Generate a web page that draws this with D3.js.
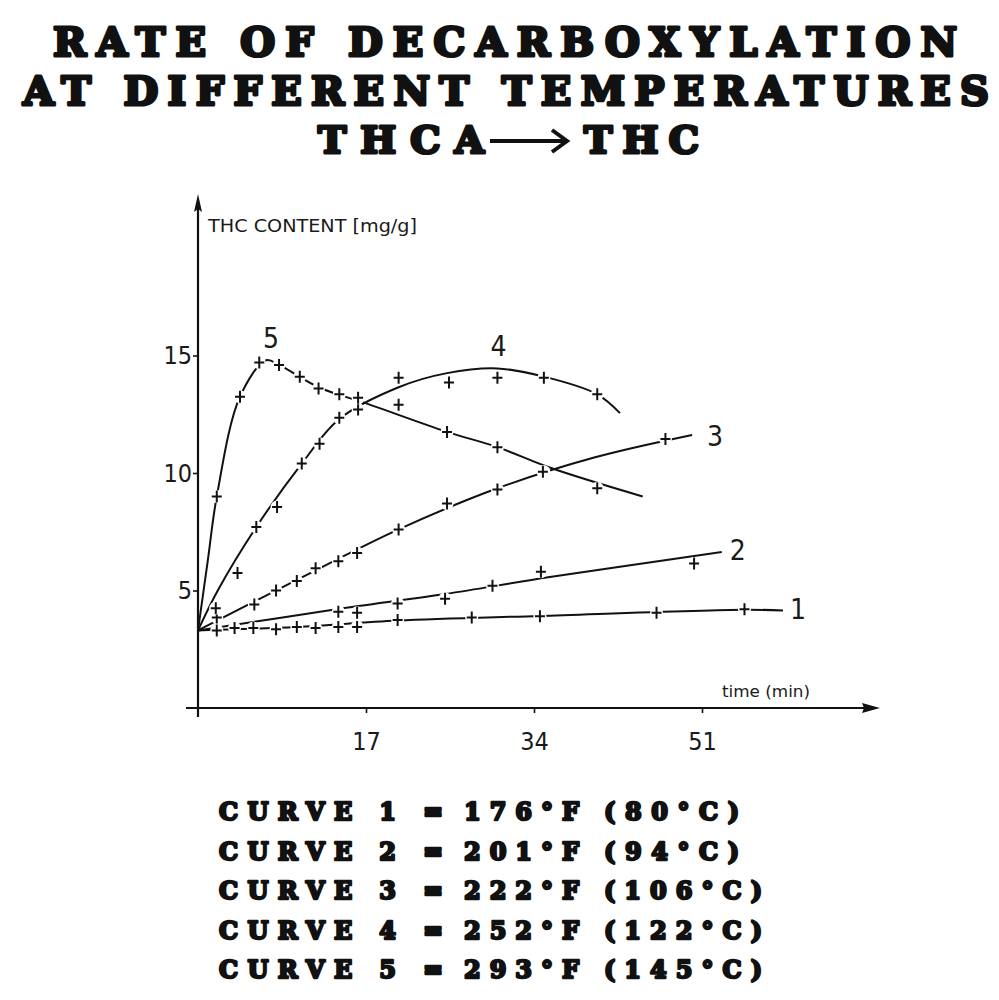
<!DOCTYPE html>
<html>
<head>
<meta charset="utf-8">
<script src="https://cdn.jsdelivr.net/npm/d3@7"></script>
<style>
  body { margin: 0; background: #fff; }
  svg { display: block; }
  .heavy { font-family: "DejaVu Serif", serif; font-weight: bold; fill: #111; stroke: #111; stroke-linejoin: round; }
  .hand { font-family: "Liberation Sans Narrow", "DejaVu Sans Condensed", sans-serif; font-stretch: condensed; fill: #1a1a1a; }
</style>
</head>
<body>
<div class="chart"></div>
<script>
// title + legend text
const titleLines = ["RATE OF DECARBOXYLATION", "AT DIFFERENT TEMPERATURES"];
const legendCurves = ["CURVE 1", "CURVE 2", "CURVE 3", "CURVE 4", "CURVE 5"];
const legendF = ["176°F", "201°F", "222°F", "252°F", "293°F"];
const legendC = ["(80°C)", "(94°C)", "(106°C)", "(122°C)", "(145°C)"];

// axes
const xTicks = [17, 34, 51];
const yTicks = [5, 10, 15];

// measured points [time min, THC mg/g]
const curve1Points = [[1.9,3.3],[3.7,3.4],[5.6,3.4],[7.9,3.35],[10,3.45],[11.9,3.4],[14.2,3.45],[16.1,3.45],[20.2,3.75],[27.7,3.85],[34.6,3.9],[46.4,4.05],[55.3,4.2]];
const curve2Points = [[14.2,4.1],[16.1,4.05],[20.2,4.45],[25,4.65],[29.8,5.2],[34.7,5.8],[50.2,6.15]];
const curve3Points = [[1.9,3.85],[5.7,4.4],[7.9,5.0],[10,5.4],[11.9,5.95],[14.2,6.25],[16.1,6.6],[20.3,7.6],[25.2,8.7],[30.3,9.3],[35,10.05],[47.3,11.45]];
const curve4Points = [[1.8,4.25],[4.0,5.75],[5.9,7.7],[8,8.55],[10.5,10.4],[12.3,11.25],[14.3,12.35],[16.2,12.7],[20.3,14.05],[20.3,12.9],[25.4,13.85],[30.3,14.05],[35,14.05],[40.4,13.35]];
const curve5Points = [[1.9,9.0],[4.25,13.25],[6.2,14.7],[8.2,14.6],[10.3,14.1],[12.2,13.6],[14.3,13.35],[16.2,13.2],[25.2,11.75],[30.3,11.1],[34.9,10.05],[40.4,9.35]];

// hand drawn fitted curves
const curve1Line = [[0,3.3],[10,3.45],[20.2,3.72],[34.6,3.92],[55.3,4.18],[59.2,4.15]];
const curve2Line = [[0,3.3],[14,4.2],[25,4.85],[35.6,5.57],[53,6.64]];
const curve3Line = [[0,3.3],[10,5.45],[20.3,7.6],[30.3,9.35],[40,10.65],[50,11.62]];
const curve4Line = [[0,3.3],[2,5.0],[5.9,7.7],[10.5,10.4],[14.3,12.3],[20.3,13.65],[25.2,14.25],[30.3,14.45],[35,14.1],[40.4,13.35],[42.7,12.55]];
const curve5Line = [[0,3.3],[1,6.3],[1.9,9.0],[4.25,13.25],[6.9,14.8],[8.2,14.6],[12.2,13.65],[17.1,12.95],[25.2,11.75],[30.3,11.1],[35.8,10.2],[45,9.0]];

// curve number labels [time, THC]
const curveNames = ["1", "2", "3", "4", "5"];
const labelAt = [[59.9,3.8],[53.8,6.3],[51.5,11.15],[30.4,15.0],[7.4,15.3]];

const allPoints = [curve1Points, curve2Points, curve3Points, curve4Points, curve5Points];
const allLines = [curve1Line, curve2Line, curve3Line, curve4Line, curve5Line];

const W = 999, H = 1000;
const svg = d3.select(".chart").append("svg")
    .attr("width", W)
    .attr("height", H);

const x = d3.scaleLinear().domain([0, 51]).range([198, 702]);
const y = d3.scaleLinear().domain([0, 15]).range([708, 355.5]);

// ---- title (thick stroke to get the poster weight)
function heavyText(tx, ty, size, len, str, sw) {
  const t = svg.append("text").attr("class", "heavy")
      .attr("x", tx).attr("y", ty)
      .style("font-size", size + "px")
      .style("stroke-width", sw + "px")
      .text(str);
  if (len) t.attr("textLength", len).attr("lengthAdjust", "spacing");
  return t;
}
heavyText(53, 56, 40, 904, titleLines[0], 3.2);
heavyText(23, 105, 40, 966, titleLines[1], 3.2);
heavyText(318, 153, 38, 166, "THCA", 3.2);
heavyText(584, 153, 38, 115, "THC", 3.2);
// reaction arrow
svg.append("path")
    .attr("d", "M490,141H565M552,130L567,141L552,152")
    .attr("fill", "none").attr("stroke", "#111")
    .attr("stroke-width", 4);

// ---- axes
const plot = svg.append("g");

plot.append("line")
    .attr("x1", 186).attr("x2", 868)
    .attr("y1", y(0)).attr("y2", y(0))
    .attr("stroke", "#111").attr("stroke-width", 2.2);
plot.append("path")
    .attr("d", "M880," + y(0) + "L862," + (y(0) - 5) + "L864," + y(0) + "L862," + (y(0) + 5) + "Z")
    .attr("fill", "#111");
plot.append("line")
    .attr("x1", x(0)).attr("x2", x(0))
    .attr("y1", 717).attr("y2", 208)
    .attr("stroke", "#111").attr("stroke-width", 2.2);
plot.append("path")
    .attr("d", "M" + x(0) + ",194L" + (x(0) - 4) + ",212L" + x(0) + ",209L" + (x(0) + 4) + ",212Z")
    .attr("fill", "#111");

const xAxis = d3.axisBottom(x)
    .tickValues(xTicks)
    .tickSize(5)
    .tickPadding(19)
    .tickFormat(d3.format("d"));
const yAxis = d3.axisLeft(y)
    .tickValues(yTicks)
    .tickSize(5)
    .tickPadding(1)
    .tickFormat(d3.format("d"));

const gx = plot.append("g")
    .attr("transform", "translate(0," + y(0) + ")")
    .call(xAxis);
const gy = plot.append("g")
    .attr("transform", "translate(" + x(0) + ",0)")
    .call(yAxis);
[gx, gy].forEach(function(g) {
  g.select(".domain").remove();
  g.selectAll(".tick line").attr("stroke", "#111").attr("stroke-width", 1.6);
  g.selectAll(".tick text")
      .attr("class", "hand")
      .attr("fill", "#1a1a1a")
      .style("font-size", "25px");
});

plot.append("text").attr("class", "hand")
    .attr("x", 208).attr("y", 232)
    .style("font-size", "18px")
    .attr("textLength", 209).attr("lengthAdjust", "spacingAndGlyphs")
    .text("THC  CONTENT [mg/g]");
plot.append("text").attr("class", "hand")
    .attr("x", 722).attr("y", 697)
    .style("font-size", "15px")
    .attr("textLength", 88).attr("lengthAdjust", "spacingAndGlyphs")
    .text("time (min)");

// ---- curves
const line = d3.line()
    .x(function(d) { return x(d[0]); })
    .y(function(d) { return y(d[1]); })
    .curve(d3.curveCatmullRom.alpha(0.5));

plot.selectAll(".curve")
    .data(allLines)
  .enter().append("path")
    .attr("class", "curve")
    .attr("d", line)
    .attr("fill", "none")
    .attr("stroke", "#111")
    .attr("stroke-width", 2);

// markers: white gap round each cross, like the pen drawing
const marks = plot.selectAll(".marks")
    .data(allPoints)
  .enter().append("g")
    .attr("class", "marks");
marks.selectAll(".gap")
    .data(function(d) { return d; })
  .enter().append("circle")
    .attr("class", "gap")
    .attr("cx", function(d) { return x(d[0]); })
    .attr("cy", function(d) { return y(d[1]); })
    .attr("r", 6.5)
    .attr("fill", "#fff");
marks.selectAll(".cross")
    .data(function(d) { return d; })
  .enter().append("path")
    .attr("class", "cross")
    .attr("transform", function(d) { return "translate(" + x(d[0]) + "," + y(d[1]) + ")"; })
    .attr("d", "M-5,0H5M0,-6V6")
    .attr("stroke", "#111")
    .attr("stroke-width", 2);

plot.selectAll(".clabel")
    .data(curveNames)
  .enter().append("text")
    .attr("class", "hand clabel")
    .attr("x", function(d, i) { return x(labelAt[i][0]); })
    .attr("y", function(d, i) { return y(labelAt[i][1]); })
    .attr("text-anchor", function(d, i) { return i > 2 ? "middle" : "start"; })
    .style("font-size", "28px")
    .text(function(d) { return d; });

// ---- legend
legendCurves.forEach(function(c, i) {
  const by = 820 + i * 39.5;
  heavyText(219, by, 24, 177, c, 2.4);
  heavyText(423, by, 24, null, "=", 2.4);
  heavyText(464, by, 24, 115, legendF[i], 2.4);
  heavyText(604, by, 24, legendC[i].length * 23 - 3, legendC[i], 2.4);
});
</script>
</body>
</html>
